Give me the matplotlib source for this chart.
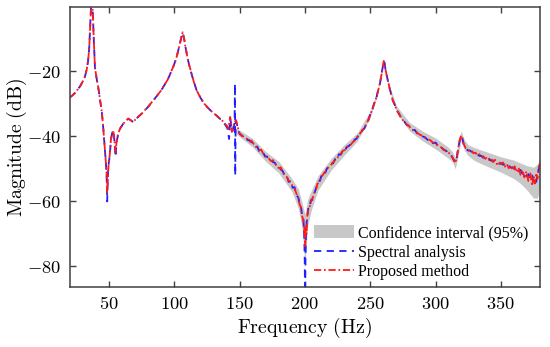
import matplotlib
matplotlib.use("Agg")
import matplotlib.pyplot as plt
from matplotlib.ticker import FuncFormatter

plt.rcParams['mathtext.fontset'] = 'cm'

# ---------------- data ----------------
proposed_freq = [
    20, 22, 24, 26, 28, 30, 31.5, 33, 34, 34.8, 35.3, 35.8, 36.3, 36.8, 37.3, 37.8, 38.4, 39.2,
    40.5, 41.7, 43, 44.3, 45.3, 46.3, 47.2, 48.1, 48.6, 49.1, 49.6, 50.2, 50.7, 51.4, 52.2, 53.2,
    54.0, 55.0, 55.8, 57.0, 58.5, 61, 63, 64.7, 66.5, 68.5, 71, 75, 80, 85, 90, 95, 99, 101.5,
    103, 104.5, 105.6, 106.4, 107.5, 108.5, 109.5, 111, 113, 114.6, 117, 119.7, 123, 127.4, 132,
    137.6, 140.6, 141.4, 142.1, 142.7, 143.3, 144.0, 144.8, 145.6, 146.4, 147.3, 148.2, 149.1,
    150.0, 151.5, 153.0, 154.5, 156.0, 157.5, 159.0, 160.5, 162.0, 163.5, 165.0, 166.5, 168.0,
    169.5, 171.0, 172.5, 174.0, 175.5, 177.0, 178.5, 180.0, 181.5, 183.0, 184.5, 186.0, 187.5,
    189.0, 190.5, 192.0, 193.5, 195.0, 196.0, 197.0, 198.0, 198.8, 199.4, 199.8, 200.2, 200.6,
    201.2, 201.8, 202.5, 203.5, 204.5, 205.5, 206.5, 207.5, 208.5, 209.5, 210.5, 211.5, 212.5,
    213.5, 214.5, 215.5, 217.0, 218.5, 220.0, 221.5, 223.0, 224.5, 226.0, 227.5, 229.0, 230.5,
    232.0, 233.5, 235.0, 236.5, 238.0, 239.5, 241.0, 242.5, 244.0, 245.5, 247.0, 248.5, 250.0,
    251.5, 253.0, 254.5, 256.0, 257.5, 258.7, 259.6, 260.3, 261.0, 261.8, 262.8, 264.0, 265.5,
    267.0, 268.5, 270.0, 272.0, 274.0, 276.0, 278.0, 280.0, 282.0, 284.0, 286.0, 288.0, 290.0,
    292.0, 294.0, 296.0, 298.0, 300.0, 302.0, 304.0, 306.0, 308.0, 310.0, 312.0, 313.5, 315.0,
    316.0, 317.0, 318.0, 319.0, 319.7, 320.5, 321.5, 323.0, 324.5, 326.0, 327.5, 329.0, 330.5,
    332.0, 333.5, 335.0, 336.5, 338.0, 339.5, 341.0, 342.5, 344.0, 345.5, 347.0, 348.5, 350.0,
    351.5, 353.0, 354.5, 356.0, 357.5, 359.0, 360.5, 362.0, 363.5, 365.0, 366.5, 368.0, 369.5,
    371.0, 372.5, 374.0, 375.0, 376.0, 377.0, 378.0, 379.0, 380.0]
proposed_db = [
    -28.0, -27.4, -26.6, -25.6, -24.5, -23.0, -21.7, -19.3, -16.6, -13.0, -8.4, -4.0, 0.5, 4.0, 0.5, -5.0, -11.0, -18.7,
    -22.2, -24.8, -28.5, -31.9, -36.0, -41.1, -46.0, -51.2, -57.5, -53.0, -49.0, -47.0, -45.0, -41.1, -39.2, -38.1,
    -40.5, -45.2, -41.5, -39.1, -37.5, -36.0, -35.2, -34.5, -35.0, -35.5, -34.5, -33.0, -30.8, -28.4, -25.8, -22.5, -18.7, -16.0,
    -13.6, -11.0, -9.0, -8.0, -10.0, -12.5, -14.6, -17.5, -20.5, -22.8, -25.8, -27.9, -30.0, -31.9, -33.5,
    -35.5, -37.0, -37.6, -35.8, -34.0, -35.5, -38.6, -38.2, -36.5, -35.6, -35.0, -36.6, -38.0,
    -39.1, -39.8, -40.1, -40.6, -40.8, -41.6, -41.3, -42.2, -43.0, -43.4, -44.3, -44.1, -45.3,
    -45.9, -46.5, -46.9, -47.6, -47.3, -48.4, -48.9, -49.8, -49.5, -51.0, -51.8, -52.4, -53.6,
    -54.1, -55.3, -56.0, -57.6, -59.2, -61.0, -62.0, -64.8, -66.0, -69.5, -67.5, -73.8, -68.0,
    -70.0, -64.5, -62.6, -61.8, -60.0, -59.2, -58.3, -56.8, -56.3, -54.6, -54.2, -53.4, -52.5,
    -52.0, -51.3, -50.9, -50.0, -49.2, -48.7, -48.0, -47.3, -46.9, -45.8, -45.3, -44.4, -44.2,
    -43.5, -42.7, -42.6, -41.8, -41.3, -40.4, -39.8, -38.9, -38.2, -37.4, -36.3, -34.9, -33.3,
    -31.6, -30.0, -28.2, -26.0, -23.4, -20.8, -18.3, -16.8, -17.6, -19.8, -21.8, -23.8, -26.5,
    -28.6, -30.2, -31.6, -33.2, -34.5, -35.6, -36.3, -37.0, -37.9, -38.2, -38.9, -39.5, -39.8,
    -40.5, -40.9, -41.2, -41.9, -42.1, -42.9, -43.3, -43.9, -44.6, -45.0, -46.0, -46.8, -48.2,
    -47.0, -44.5, -42.0, -40.3, -39.7, -40.8, -42.3, -43.6, -44.0, -44.6, -44.3, -45.2, -45.0,
    -45.8, -45.5, -46.4, -46.1, -46.9, -46.4, -47.3, -46.8, -47.9, -47.2, -48.5, -47.8, -48.6,
    -48.0, -49.3, -48.4, -49.8, -48.9, -50.4, -49.2, -51.0, -49.6, -51.8, -50.3, -52.6, -50.8,
    -53.7, -51.4, -55.2, -52.0, -54.5, -51.3, -53.0, -49.5, -48.3]

spectral_freq = [
    20, 22, 24, 26, 28, 30, 31.5, 33, 34, 34.8, 35.3, 35.8, 36.3, 36.8, 37.3, 37.8, 38.4, 39.2,
    40.5, 41.7, 43, 44.3, 45.3, 46.3, 47.2, 48.1, 48.4, 48.6, 48.9, 49.3, 49.7, 50.2, 50.7, 51.4,
    52.2, 53.2, 54.0, 55.0, 55.8, 57.0, 58.5, 61, 63, 64.7, 66.5, 68.5, 71, 75, 80, 85, 90, 95, 99,
    101.5, 103, 104.5, 105.6, 106.4, 107.5, 108.5, 109.5, 111, 113, 114.6, 117, 119.7, 123, 127.4,
    132, 137.6, 140.6, 141.9, 142.7, 143.3, 144.0, 144.8, 145.6, 146.1, 146.4, 146.6, 146.9,
    147.3, 148.2, 149.1,
    150.0, 151.5, 153.0, 154.5, 156.0, 157.5, 159.0, 160.5, 162.0, 163.5, 165.0, 166.5, 168.0,
    169.5, 171.0, 172.5, 174.0, 175.5, 177.0, 178.5, 180.0, 181.5, 183.0, 184.5, 186.0, 187.5,
    189.0, 190.5, 192.0, 193.5, 195.0, 196.0, 197.0, 198.0, 198.8, 199.4, 199.8, 200.1, 200.4,
    200.8, 201.5, 202.5, 203.5, 204.5, 205.5, 206.5, 207.5, 208.5, 209.5, 210.5, 211.5, 212.5,
    213.5, 214.5, 215.5, 217.0, 218.5, 220.0, 221.5, 223.0, 224.5, 226.0, 227.5, 229.0, 230.5,
    232.0, 233.5, 235.0, 236.5, 238.0, 239.5, 241.0, 242.5, 244.0, 245.5, 247.0, 248.5, 250.0,
    251.5, 253.0, 254.5, 256.0, 257.5, 258.7, 259.6, 260.3, 261.0, 261.8, 262.8, 264.0, 265.5,
    267.0, 268.5, 270.0, 272.0, 274.0, 276.0, 278.0, 280.0, 282.0, 284.0, 286.0, 288.0, 290.0,
    292.0, 294.0, 296.0, 298.0, 300.0, 302.0, 304.0, 306.0, 308.0, 310.0, 312.0, 313.5, 315.0,
    316.0, 317.0, 318.0, 319.0, 319.7, 320.5, 321.5, 323.0, 324.5, 326.0, 327.5, 329.0, 330.5,
    332.0, 333.5, 335.0, 336.5, 338.0, 339.5, 341.0, 342.5, 344.0, 345.5, 347.0, 348.5, 350.0,
    351.5, 353.0, 354.5, 356.0, 357.5, 359.0, 360.5, 362.0, 363.5, 365.0, 366.5, 368.0, 369.5,
    371.0, 372.5, 374.0, 375.0, 376.0, 377.0, 378.0, 379.0, 380.0]
spectral_db = [
    -28.0, -27.4, -26.6, -25.6, -24.5, -23.0, -21.7, -19.3, -16.6, -13.0, -8.4, -4.0, 0.5, 4.0, 0.5, -5.0, -11.0, -18.7,
    -22.2, -24.8, -28.5, -31.9, -36.0, -41.1, -46.0, -51.2, -56.0, -60.0, -55.0, -50.5, -48.5, -47.0, -45.2, -41.3,
    -39.3, -38.2, -40.8, -46.3, -41.8, -39.2, -37.6, -36.0, -35.2, -34.6, -35.0, -35.6, -34.5, -33.0, -30.9, -28.4, -25.8, -22.5, -18.8,
    -16.0, -13.6, -11.1, -9.1, -8.1, -10.0, -12.5, -14.6, -17.5, -20.6, -22.8, -25.8, -27.9, -30.1, -31.9,
    -33.5, -35.6, -37.5, -40.8, -34.5, -35.7, -38.2, -38.0, -36.8, -36.0, -23.8, -52.0, -37.0,
    -35.4, -36.8, -38.2,
    -39.3, -39.6, -40.4, -40.3, -41.1, -41.2, -41.8, -42.0, -43.3, -43.1, -44.6, -44.4, -45.0,
    -46.2, -46.2, -47.3, -47.2, -47.9, -48.1, -49.3, -49.5, -50.2, -50.7, -52.3, -52.1, -54.0,
    -53.7, -55.8, -55.6, -58.1, -58.8, -61.6, -61.8, -65.2, -65.5, -70.0, -78.0, -90.0, -78.0,
    -69.0, -65.5, -62.2, -62.3, -59.6, -59.6, -57.9, -57.2, -55.8, -55.1, -53.8, -53.7, -52.2,
    -52.3, -51.0, -51.2, -49.7, -49.5, -48.4, -48.3, -47.0, -47.2, -45.5, -45.6, -44.2, -44.5,
    -43.2, -43.0, -42.3, -42.1, -41.0, -40.7, -39.6, -39.2, -38.0, -37.6, -36.1, -35.1, -33.1,
    -31.8, -29.8, -28.4, -25.8, -23.6, -20.6, -18.5, -16.9, -17.4, -20.0, -21.6, -24.0, -26.3,
    -28.8, -30.0, -31.8, -33.0, -34.7, -35.4, -36.5, -36.8, -38.1, -38.0, -39.1, -39.3, -40.0,
    -40.3, -41.1, -41.0, -42.1, -41.9, -43.1, -43.1, -44.1, -44.4, -45.2, -45.8, -47.0, -48.0,
    -47.2, -44.3, -42.2, -40.1, -39.8, -40.6, -42.5, -43.4, -44.3, -44.3, -44.7, -44.9, -45.4,
    -45.5, -46.0, -46.0, -46.6, -46.5, -47.0, -46.9, -47.5, -47.4, -47.9, -47.7, -48.4, -48.2,
    -48.7, -48.6, -49.2, -48.9, -49.6, -49.5, -50.1, -49.8, -50.7, -50.3, -51.5, -51.0, -52.2,
    -51.6, -53.0, -52.0, -53.8, -52.6, -54.0, -51.5, -50.0, -48.5]

ci_freq = [140, 150, 160, 170, 180, 190, 195, 198, 200, 202, 205, 210, 220, 230, 240, 250, 255,
           260, 265, 270, 280, 290, 300, 310, 313, 315, 317, 319.5, 322, 325, 330, 340, 350, 360,
           365, 370, 375, 378, 380]
ci_low = [-36.8, -40.1, -43.3, -47.7, -51.3, -57.0, -62.2, -68.8, -80.0, -67.5, -62.5, -56.5,
          -50.4, -45.8, -41.5, -34.2, -28.0, -17.8, -26.2, -32.6, -38.3, -41.4, -43.9, -46.8,
          -47.9, -50.0, -46.5, -41.3, -44.2, -46.0, -47.5, -49.3, -51.0, -53.0, -54.5, -56.5,
          -59.0, -59.0, -56.0]
ci_high = [-36.2, -38.1, -40.7, -44.7, -47.7, -53.0, -56.2, -60.8, -64.0, -59.5, -56.5, -52.1,
           -46.8, -42.6, -38.9, -32.2, -26.4, -16.6, -24.8, -30.6, -35.7, -38.4, -40.5, -43.4,
           -44.8, -46.5, -42.5, -38.3, -41.0, -42.6, -43.5, -44.9, -46.3, -47.3, -48.2, -49.0,
           -49.5, -48.5, -46.5]

x_ticks = [50, 100, 150, 200, 250, 300, 350]
y_ticks = [-80, -60, -40, -20]

# ---------------- figure ----------------
fig = plt.figure(figsize=(5.5, 3.47), dpi=100)
ax = fig.add_axes([0.127, 0.173, 0.855, 0.807])

ax.fill_between(ci_freq, ci_low, ci_high, color='#c8c8c8', linewidth=0,
                label='Confidence interval (95%)')
ax.plot(spectral_freq, spectral_db, color='#1f1fff', linestyle=(0, (4, 3)), linewidth=1.3,
        label='Spectral analysis')
ax.plot(proposed_freq, proposed_db, color='#ff1a1a', linestyle=(0, (4, 1.5, 1, 1.5)),
        linewidth=1.3, label='Proposed method')

ax.set_xlim(20, 380)
ax.set_ylim(-86.3, -0.2)
ax.set_xticks(x_ticks)
ax.set_yticks(y_ticks)
fmt = FuncFormatter(lambda v, p: r'$%d$' % v)
ax.xaxis.set_major_formatter(fmt)
ax.yaxis.set_major_formatter(fmt)
ax.tick_params(direction='in', length=4, width=1.0, color='#404040', labelsize=13.3,
               top=True, right=True, pad=6)
for s in ax.spines.values():
    s.set_color('#404040')
    s.set_linewidth(1.1)

ax.set_xlabel(r'$\mathrm{Frequency\ (Hz)}$', fontsize=14.3, labelpad=2)
ax.set_ylabel(r'$\mathrm{Magnitude\ (dB)}$', fontsize=14.3, labelpad=-1)

leg = ax.legend(loc='lower left', bbox_to_anchor=(0.52, 0.025), frameon=False,
                prop={'family': 'Liberation Serif', 'size': 11.5}, borderpad=0,
                borderaxespad=0, handlelength=2.5, handleheight=0.9, handletextpad=0.2,
                labelspacing=0.2)

fig.savefig('out.png', dpi=100)
